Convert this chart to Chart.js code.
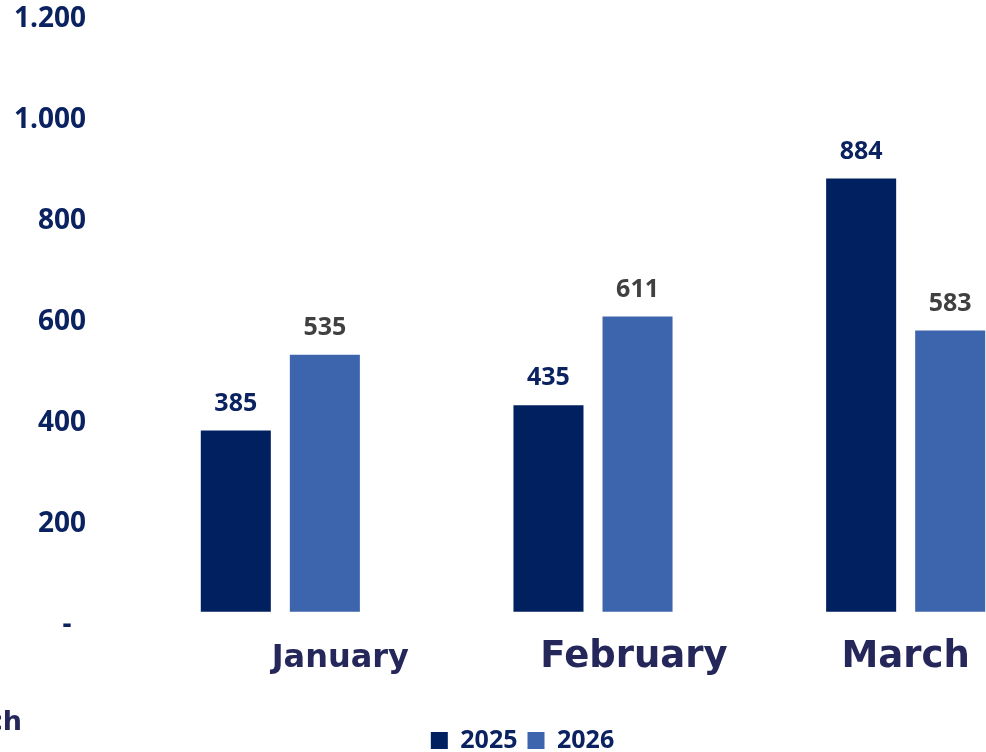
<!DOCTYPE html>
<html>
<head>
<meta charset="utf-8">
<script src="https://cdn.jsdelivr.net/npm/chart.js@4/dist/chart.umd.min.js"></script>
<style>
  html, body { margin: 0; padding: 0; background: #fff; overflow: hidden; }
  #wrap { position: relative; width: 1076px; height: 752px; }
</style>
</head>
<body>
<div id="wrap"><canvas id="sales-chart"></canvas></div>
<script>
// monthly values
const months = ["January", "February", "March"];
const seriesNames = ["2025", "2026"];
const values2025 = [385, 435, 884];
const values2026 = [535, 611, 583];
const yTicks = [0, 200, 400, 600, 800, 1000, 1200];

const navy = "#002060";
const blue = "#3D65AD";
const labelNavy = "#0B2260";
const monthColor = "#25275A";

// month label look (size, horizontal shift)
const monthFont = [32, 37, 37];
const monthShift = [60, 41, 0];

function formatTick(v) {
    if (v === 0) return "-  ";
    return String(v).replace(/\B(?=(\d{3})+(?!\d))/g, ".");
}

const valueLabels = {
    id: "valueLabels",
    afterDatasetsDraw(chart) {
        const ctx = chart.ctx;
        ctx.save();
        ctx.font = "bold 25px 'Open Sans'";
        ctx.textAlign = "center";
        ctx.textBaseline = "middle";
        chart.data.datasets.forEach((ds, i) => {
            const meta = chart.getDatasetMeta(i);
            ctx.fillStyle = i === 0 ? labelNavy : "#404040";
            meta.data.forEach((bar, j) => {
                ctx.fillText(ds.data[j], bar.x, bar.y - 27);
            });
        });
        ctx.restore();
    }
};

const monthLabels = {
    id: "monthLabels",
    afterDraw(chart) {
        const ctx = chart.ctx;
        const xs = chart.scales.x;
        const bottom = chart.chartArea.bottom;
        ctx.save();
        ctx.fillStyle = monthColor;
        ctx.textAlign = "center";
        ctx.textBaseline = "alphabetic";
        months.forEach((m, i) => {
            ctx.font = "bold " + monthFont[i] + "px 'DejaVu Sans'";
            ctx.fillText(m, xs.getPixelForValue(i) + monthShift[i], bottom + 42);
        });
        // cut-off label at the left edge
        ctx.font = "bold 27px 'DejaVu Sans'";
        ctx.textAlign = "right";
        ctx.fillText(months[2], 22, bottom + 105);
        ctx.restore();
    }
};

const ctx = document.getElementById("sales-chart").getContext("2d");
new Chart(ctx, {
    type: "bar",
    data: {
        labels: months,
        datasets: [
            {
                label: seriesNames[0],
                data: values2025,
                backgroundColor: navy,
                borderWidth: 0,
                base: 26,
                barPercentage: 0.7865,
                categoryPercentage: 0.5696
            },
            {
                label: seriesNames[1],
                data: values2026,
                backgroundColor: blue,
                borderWidth: 0,
                base: 26,
                barPercentage: 0.7865,
                categoryPercentage: 0.5696
            }
        ]
    },
    options: {
        responsive: true,
        maintainAspectRatio: false,
        animation: false,
        layout: {
            padding: { top: 19, left: -17, right: 14, bottom: -11 }
        },
        scales: {
            x: {
                type: "category",
                offset: true,
                grid: { display: false },
                border: { display: false },
                ticks: { display: false },
                afterFit: (s) => { s.height = 93; }
            },
            y: {
                min: 0,
                max: 1200,
                afterBuildTicks: (s) => { s.ticks = yTicks.map(v => ({ value: v })); },
                afterFit: (s) => { s.width = 141; s.paddingTop = 0; s.paddingBottom = 0; },
                grid: { display: false, drawTicks: false },
                border: { display: false },
                ticks: {
                    padding: 38,
                    color: labelNavy,
                    font: { family: "'Open Sans'", size: 28, weight: "bold" },
                    callback: (v) => formatTick(v)
                }
            }
        },
        plugins: {
            legend: {
                position: "bottom",
                labels: {
                    boxWidth: 17,
                    boxHeight: 17,
                    padding: 10,
                    color: labelNavy,
                    font: { family: "'Open Sans'", size: 25, weight: "bold" }
                }
            },
            tooltip: { enabled: false }
        }
    },
    plugins: [valueLabels, monthLabels]
});
</script>
</body>
</html>
